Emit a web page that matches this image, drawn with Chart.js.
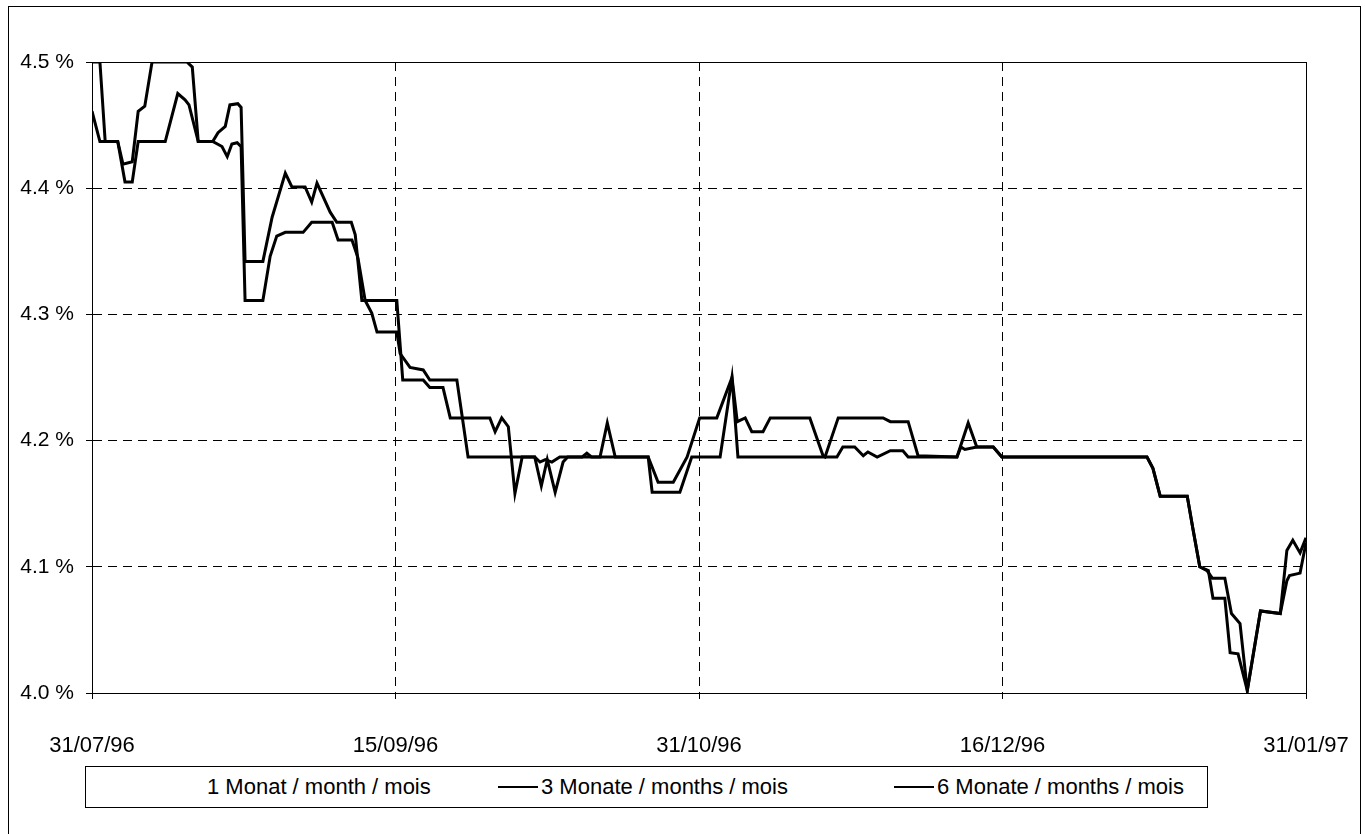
<!DOCTYPE html>
<html>
<head>
<meta charset="utf-8">
<script src="https://cdn.jsdelivr.net/npm/chart.js@4.4.0/dist/chart.umd.min.js"></script>
<style>
  html, body { margin: 0; padding: 0; background: #fff; }
  body { width: 1365px; height: 834px; position: relative; overflow: hidden; font-family: Arial, "Liberation Sans", sans-serif; }
  #frame { position: absolute; left: 8px; top: 6px; width: 1353px; height: 900px; border: 1px solid #000; box-sizing: border-box; }
  #wrap { position: absolute; left: 0; top: 0; width: 1365px; height: 834px; }
  #legend { position: absolute; left: 85px; top: 766px; width: 1123px; height: 42px; border: 1px solid #000; box-sizing: border-box; background: #fff; }
  .item { position: absolute; top: 0; height: 40px; display: flex; align-items: center; font-size: 22px; color: #000; white-space: nowrap; }
  .sample { display: inline-block; width: 40px; height: 0; border-top: 2px solid #000; margin-right: 3px; }
</style>
</head>
<body>
<div id="frame"></div>
<div id="wrap"><canvas id="c" width="1365" height="834"></canvas></div>
<div id="legend"></div>
<script>
// x values: days since 31/07/96
const tickLabels = ['31/07/96', '15/09/96', '31/10/96', '16/12/96', '31/01/97'];
const seriesNames = ['1 Monat / month / mois', '3 Monate / months / mois', '6 Monate / months / mois'];

// 1-month series is not visible in the printed chart (drawn in white)
const days1 = [];
const rate1 = [];

const days3 = [0, 1.2, 3.9, 5.0, 6.1, 7.0, 11.1, 13.0, 14.1, 14.7, 16.1, 18.3, 19.7, 20.5, 21.2, 22.0, 22.6, 23.2, 25.9, 27.0,
  28.0, 29.3, 32.0, 33.3, 36.4, 37.3, 39.4, 40.3, 41.4, 42.4, 43.2, 46.2, 46.7, 48.2, 50.2, 51.2, 55.3, 57.0, 67.1, 67.9,
  68.7, 69.7, 70.9, 74.3, 75.0, 75.7, 84.3, 84.9, 89.1, 90.9, 95.2, 97.0, 97.9, 112.9, 113.8, 115.6, 116.9, 117.6, 119.0, 121.0,
  122.9, 123.7, 131.1, 131.7, 132.3, 134.1, 136.6, 137.9, 159.9, 160.8, 161.9, 166.0, 166.9, 167.9, 169.2, 169.9, 171.7, 172.5, 173.7, 175.1,
  177.1, 180.1, 181.1, 181.5, 183.1, 184.0];
const rate3 = [4.461, 4.437, 4.437, 4.405, 4.405, 4.437, 4.437, 4.475, 4.470, 4.466, 4.437, 4.437, 4.433, 4.425, 4.435, 4.436, 4.433, 4.311, 4.311, 4.346,
  4.362, 4.365, 4.365, 4.373, 4.373, 4.359, 4.359, 4.345, 4.311, 4.301, 4.286, 4.286, 4.269, 4.258, 4.256, 4.248, 4.248, 4.187, 4.187, 4.183,
  4.185, 4.183, 4.187, 4.187, 4.190, 4.187, 4.187, 4.159, 4.159, 4.187, 4.187, 4.250, 4.187, 4.187, 4.195, 4.195, 4.188, 4.191, 4.187, 4.192,
  4.192, 4.187, 4.187, 4.195, 4.193, 4.195, 4.195, 4.187, 4.187, 4.178, 4.156, 4.156, 4.129, 4.100, 4.097, 4.075, 4.075, 4.032, 4.031, 4.002,
  4.065, 4.063, 4.089, 4.093, 4.095, 4.119];

const days6 = [0, 1.2, 2.0, 3.9, 4.7, 6.1, 7.0, 8.0, 9.1, 14.4, 15.2, 16.1, 18.3, 19.1, 20.2, 20.9, 22.1, 22.6, 23.2, 25.9,
  27.3, 29.3, 30.3, 32.3, 33.3, 34.1, 36.1, 37.1, 39.3, 39.9, 40.9, 46.2, 47.1, 50.2, 51.2, 53.2, 54.3, 60.3, 61.1, 62.1,
  63.1, 64.1, 65.2, 67.1, 68.1, 69.0, 70.2, 71.4, 72.1, 77.0, 78.1, 79.3, 84.3, 85.8, 88.1, 90.2, 92.1, 94.7, 97.0, 97.8,
  99.0, 100.0, 101.7, 102.8, 108.8, 110.8, 111.1, 113.1, 119.9, 121.0, 123.7, 125.2, 131.1, 132.8, 134.1, 136.6, 137.9, 159.9, 160.8, 161.9,
  166.0, 166.9, 167.9, 169.0, 169.8, 171.7, 172.7, 174.0, 175.1, 177.1, 180.1, 181.1, 182.0, 183.1, 184.0];
const rate6 = [4.500, 4.500, 4.437, 4.437, 4.419, 4.421, 4.461, 4.465, 4.500, 4.500, 4.496, 4.437, 4.437, 4.444, 4.449, 4.466, 4.467, 4.464, 4.342, 4.342,
  4.377, 4.412, 4.401, 4.401, 4.389, 4.404, 4.381, 4.373, 4.373, 4.363, 4.311, 4.311, 4.248, 4.248, 4.242, 4.242, 4.218, 4.218, 4.207, 4.218,
  4.211, 4.158, 4.187, 4.187, 4.164, 4.185, 4.159, 4.183, 4.187, 4.187, 4.214, 4.187, 4.187, 4.167, 4.167, 4.187, 4.218, 4.218, 4.250, 4.215,
  4.218, 4.207, 4.207, 4.218, 4.218, 4.188, 4.187, 4.218, 4.218, 4.215, 4.215, 4.188, 4.187, 4.214, 4.195, 4.195, 4.187, 4.187, 4.178, 4.156,
  4.156, 4.129, 4.100, 4.097, 4.091, 4.091, 4.063, 4.055, 4.002, 4.065, 4.063, 4.113, 4.121, 4.111, 4.123];

const toPoints = (xs, ys) => xs.map((x, i) => ({ x: x, y: ys[i] }));

const FONT = 'Arial, "Liberation Sans", sans-serif';
Chart.defaults.font.family = FONT;
Chart.defaults.font.size = 21;
Chart.defaults.color = '#000';

const framePlugin = {
  id: 'plotFrame',
  beforeDatasetsDraw(chart) {
    const { ctx, chartArea: a } = chart;
    ctx.save();
    ctx.setLineDash([]);
    ctx.strokeStyle = '#000';
    ctx.lineWidth = 1;
    ctx.strokeRect(Math.round(a.left) + 0.5, Math.round(a.top) + 0.5, Math.round(a.right - a.left), Math.round(a.bottom - a.top));
    ctx.restore();
  }
};

const lineStyle = (color) => ({
  borderColor: color, backgroundColor: color, borderWidth: 3, pointRadius: 0, tension: 0, fill: false
});

const chart = new Chart(document.getElementById('c'), {
  type: 'line',
  data: {
    datasets: [
      Object.assign({ label: seriesNames[0], data: toPoints(days1, rate1) }, lineStyle('#ffffff')),
      Object.assign({ label: seriesNames[1], data: toPoints(days3, rate3) }, lineStyle('#000000')),
      Object.assign({ label: seriesNames[2], data: toPoints(days6, rate6) }, lineStyle('#000000'))
    ]
  },
  options: {
    responsive: false,
    animation: false,
    layout: { padding: { top: 62, left: 0, right: 59, bottom: 0 } },
    plugins: { legend: { display: false }, tooltip: { enabled: false } },
    scales: {
      x: {
        type: 'linear', min: 0, max: 184,
        afterFit(s) { s.height = 141; s.paddingLeft = 0; s.paddingRight = 0; },
        ticks: {
          stepSize: 46, padding: 34, maxRotation: 0, autoSkip: false, font: { size: 22 },
          callback: (v, i) => tickLabels[i]
        },
        grid: { color: '#000', lineWidth: 1, drawTicks: true, tickLength: 6, tickColor: '#000' },
        border: { display: true, color: '#000', width: 1, dash: [9, 6] }
      },
      y: {
        min: 4.0, max: 4.5,
        afterFit(s) { s.width = 92; },
        ticks: { stepSize: 0.1, padding: 12, font: { size: 21 }, callback: (v) => v.toFixed(1) + ' %' },
        grid: { color: '#000', lineWidth: 1, drawTicks: true, tickLength: 6, tickColor: '#000' },
        border: { display: true, color: '#000', width: 1, dash: [9, 6] }
      }
    }
  },
  plugins: [framePlugin]
});

// HTML legend built from the chart's datasets
const legendStarts = [78, 412, 808];
const legend = document.getElementById('legend');
chart.data.datasets.forEach((ds, i) => {
  const item = document.createElement('div');
  item.className = 'item';
  item.style.left = legendStarts[i] + 'px';
  const s = document.createElement('span');
  s.className = 'sample';
  s.style.borderTopColor = ds.borderColor;
  const t = document.createElement('span');
  t.textContent = ds.label;
  item.appendChild(s);
  item.appendChild(t);
  legend.appendChild(item);
});
</script>
</body>
</html>
